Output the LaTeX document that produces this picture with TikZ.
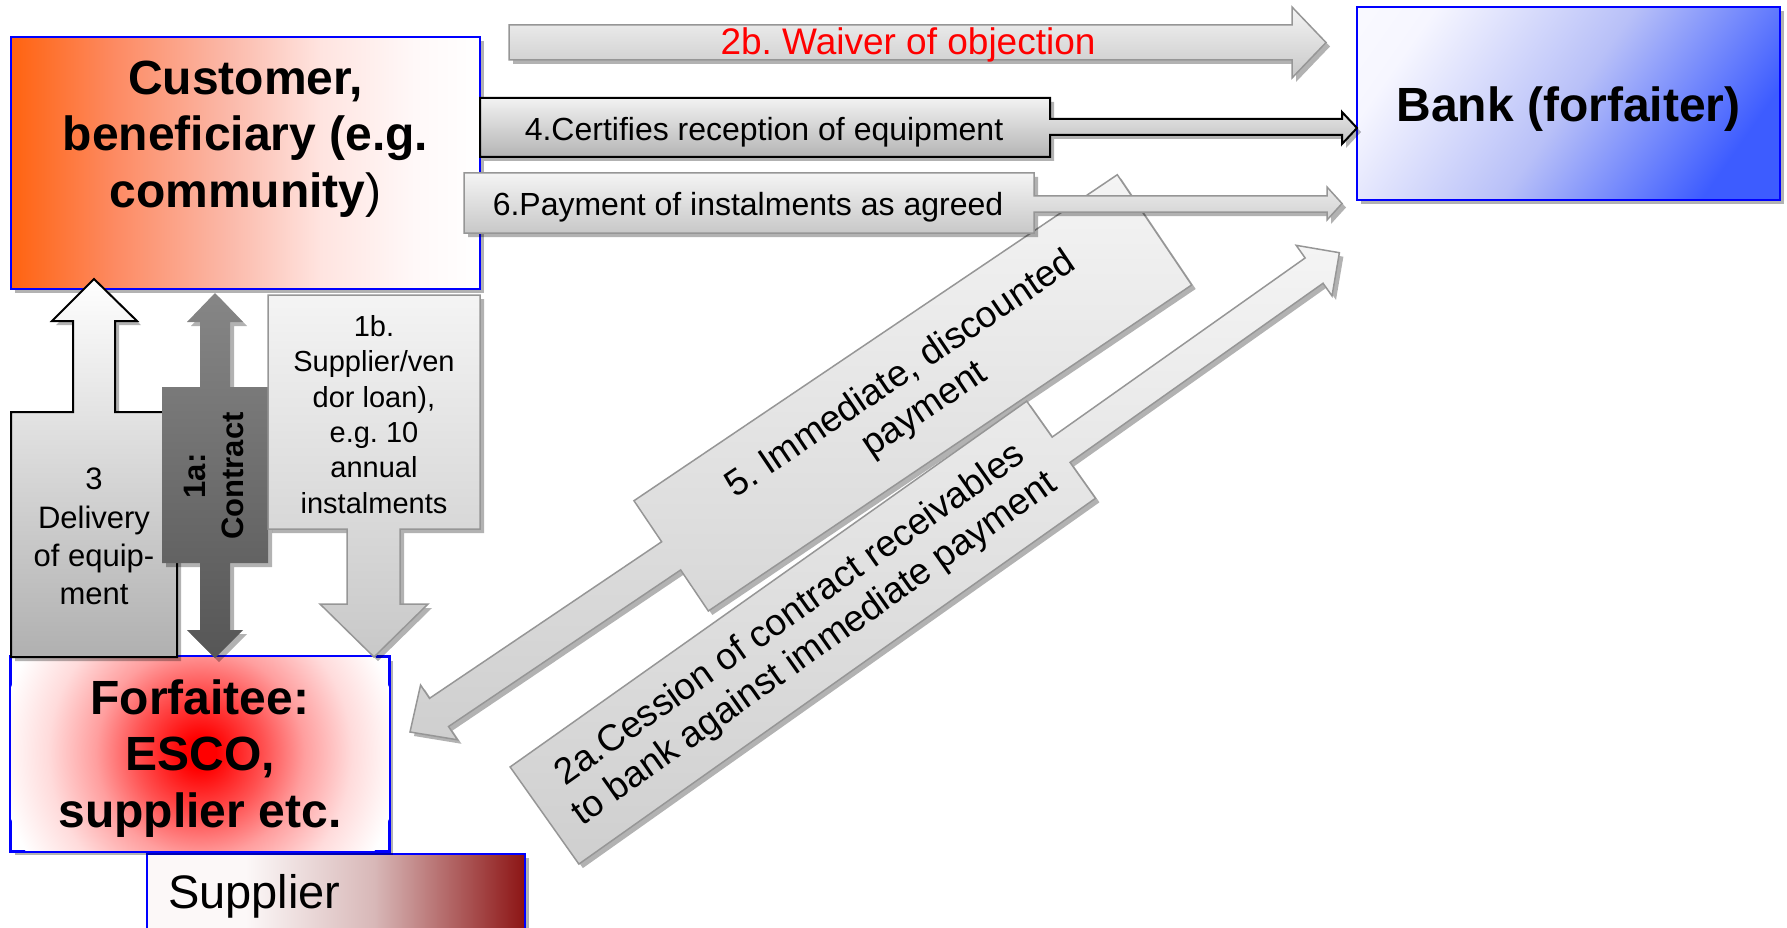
\documentclass[tikz,border=0pt]{standalone}
\usepackage{fontspec}
\setmainfont{Liberation Sans}
\usetikzlibrary{shadows}
\definecolor{custA}{HTML}{FF6310}
\definecolor{custB}{HTML}{FD8A62}
\definecolor{custC}{HTML}{FBB8A8}
\definecolor{custD}{HTML}{FFE4E0}
\definecolor{custE}{HTML}{FFF8F8}
\pgfdeclarehorizontalshading{custsh}{100bp}{color(0bp)=(custA); color(25bp)=(custA); color(36bp)=(custB); color(48bp)=(custC); color(58bp)=(custD); color(68bp)=(custE); color(75bp)=(white); color(100bp)=(white)}
\definecolor{bankA}{HTML}{F6F6FF}
\definecolor{bankB}{HTML}{B8C0F8}
\definecolor{bankC}{HTML}{3D5CFF}
\pgfdeclarehorizontalshading{banksh}{100bp}{color(0bp)=(white); color(25bp)=(bankA); color(50bp)=(bankB); color(75bp)=(bankC); color(100bp)=(bankC)}
\pgfdeclareradialshading{forfsh}{\pgfpoint{0bp}{0bp}}{color(0bp)=(red); color(2bp)=(red); color(8bp)=(red!68!white); color(13bp)=(red!38!white); color(19bp)=(red!14!white); color(25bp)=(white); color(50bp)=(white)}
\definecolor{suppA}{HTML}{FCF8F8}
\definecolor{suppB}{HTML}{D8B8B8}
\definecolor{suppC}{HTML}{8C1414}
\pgfdeclarehorizontalshading{suppsh}{100bp}{color(0bp)=(white); color(25bp)=(suppA); color(38bp)=(suppA); color(55bp)=(suppB); color(75bp)=(suppC); color(100bp)=(suppC)}
\definecolor{lgtop}{HTML}{F4F4F4}
\definecolor{lgbot}{HTML}{C8C8C8}
\definecolor{dgtop}{HTML}{F4F4F4}
\definecolor{dgbot}{HTML}{CFCFCF}
\definecolor{dktop}{HTML}{F2F2F2}
\definecolor{dkbot}{HTML}{B4B4B4}
\definecolor{ctop}{HTML}{868686}
\definecolor{cbot}{HTML}{565656}
\definecolor{wtop}{HTML}{FFFFFF}
\definecolor{wbot}{HTML}{B0B0B0}
\definecolor{edgegray}{HTML}{969696}
\begin{document}
\frenchspacing
\begin{tikzpicture}[x=1pt,y=1pt]
\tikzset{
 shad/.style={drop shadow={shadow xshift=4pt,shadow yshift=-4pt,opacity=0.3,fill=black}},
 bigbox/.style={draw=blue, line width=2pt, inner sep=0pt, shad},
 ttl/.style={font=\fontsize{48pt}{56.5pt}\selectfont\bfseries, align=center, inner sep=0pt},
 lightarrow/.style={draw=edgegray, line width=1.5pt, top color=lgtop, bottom color=lgbot, shad},
 diagarrow/.style={draw=edgegray, line width=1.5pt, top color=dgtop, bottom color=dgbot, shad},
 blackarrow/.style={draw=black, line width=2pt, top color=dktop, bottom color=dkbot, shad},
 whitearrow/.style={draw=black, line width=2pt, top color=wtop, bottom color=wbot, shad},
 contractarrow/.style={draw=none, top color=ctop, bottom color=cbot, shad},
 midtext/.style={font=\fontsize{32pt}{36pt}\selectfont, inner sep=0pt},
 diagtext/.style={font=\fontsize{37pt}{42pt}\selectfont, align=center, inner sep=0pt}
}
\useasboundingbox (0,0) rectangle (1787,-928);
% boxes
\node[bigbox, shade, shading=suppsh, minimum width=378pt, minimum height=86pt] (supp) at (336,-897) {};
\node[bigbox, fill=white, minimum width=378pt, minimum height=194pt] (forf) at (200,-754) {};
\begin{scope}
\clip (forf.north west) rectangle (forf.south east);
\shade[shading=forfsh] (200,-753) circle (200);
\end{scope}
\draw[blue, line width=2pt] (forf.north west) rectangle (forf.south east);
\node[bigbox, shade, shading=custsh, minimum width=469pt, minimum height=252pt] (cust) at (245.5,-163) {};
\node[bigbox, shade, shading=banksh, shading angle=-35, minimum width=423pt, minimum height=193pt] (bank) at (1568.5,-103.5) {};
% arrow 5
\begin{scope}[shift={(410,-732)}, rotate=34]
\path[diagarrow] (0,0) -- (35,33) -- (35,17) -- (315,17) -- (315,66.5) -- (898,66.5) -- (898,-66.5) -- (315,-66.5) -- (315,-17) -- (35,-17) -- (35,-33) -- cycle;
\node[diagtext, rotate=34] (t5) at (606.5,0) {5. Immediate, discounted\\payment};
\end{scope}
% arrow 2a
\begin{scope}[shift={(544.5,-815.5)}, rotate=35.3]
\path[diagarrow] (0,-59.5) -- (633,-59.5) -- (633,-15.5) -- (943,-15.5) -- (943,-31) -- (974,0) -- (943,31) -- (943,15.5) -- (633,15.5) -- (633,59.5) -- (0,59.5) -- cycle;
\node[diagtext, rotate=35.3] (t2a) at (316.5,0) {2a.Cession of contract receivables\\to bank against immediate payment};
\end{scope}
% top arrows
\path[lightarrow] (509,-25) -- (1292,-25) -- (1292,-7) -- (1326,-42.5) -- (1292,-78) -- (1292,-60) -- (509,-60) -- cycle;
\node[font=\fontsize{37pt}{42pt}\selectfont, text=red, anchor=base, inner sep=0pt] (t2b) at (908,-55) {2b. Waiver of objection};
\path[blackarrow] (480,-98) -- (1050,-98) -- (1050,-119) -- (1342,-119) -- (1342,-112) -- (1357,-128) -- (1342,-144) -- (1342,-135) -- (1050,-135) -- (1050,-157) -- (480,-157) -- cycle;
\node[midtext, anchor=base] (t4) at (764,-141) {4.Certifies reception of equipment};
\path[lightarrow] (464,-173) -- (1034,-173) -- (1034,-196) -- (1327,-196) -- (1327,-187) -- (1342,-203.5) -- (1327,-220) -- (1327,-212) -- (1034,-212) -- (1034,-233) -- (464,-233) -- cycle;
\node[midtext, anchor=base] (t6) at (748,-215) {6.Payment of instalments as agreed};
% left arrows
\path[whitearrow] (11,-412) -- (73,-412) -- (73,-321) -- (52,-321) -- (94,-279) -- (137,-321) -- (115,-321) -- (115,-412) -- (177,-412) -- (177,-657) -- (11,-657) -- cycle;
\path[contractarrow] (215,-293) -- (243,-322) -- (230,-322) -- (230,-387) -- (268,-387) -- (268,-563) -- (230,-563) -- (230,-630) -- (243,-630) -- (215,-658) -- (187,-630) -- (200,-630) -- (200,-563) -- (162,-563) -- (162,-387) -- (200,-387) -- (200,-322) -- (187,-322) -- cycle;
\path[lightarrow] (268,-295) -- (480,-295) -- (480,-529) -- (400,-529) -- (400,-604) -- (428,-604) -- (374,-657) -- (320,-604) -- (347,-604) -- (347,-529) -- (268,-529) -- cycle;
\node[font=\fontsize{31pt}{38.3pt}\selectfont, align=center, inner sep=0pt] (t3) at (94,-536.5) {3\\Delivery\\of equip-\\ment};
\node[font=\fontsize{31pt}{38pt}\selectfont\bfseries, align=center, rotate=90, inner sep=0pt] (t1a) at (214,-476) {1a:\\Contract};
\node[font=\fontsize{29pt}{35.4pt}\selectfont, align=center, inner sep=0pt] (t1b) at (374,-414.5) {1b.\\Supplier/ven\\dor loan),\\e.g. 10\\annual\\instalments};
% titles
\node[ttl] (tcust) at (245.5,-139) {Customer,\\beneficiary (e.g.\\community{\mdseries )}};
\node[ttl, anchor=base] (tbank) at (1568.5,-122) {Bank (forfaiter)};
\node[ttl] (tforf) at (200,-758.5) {Forfaitee:\\ESCO,\\supplier etc.};
\node[font=\fontsize{47pt}{56pt}\selectfont, anchor=base west, inner sep=0pt] (tsupp) at (168,-908) {Supplier};
\end{tikzpicture}
\end{document}
